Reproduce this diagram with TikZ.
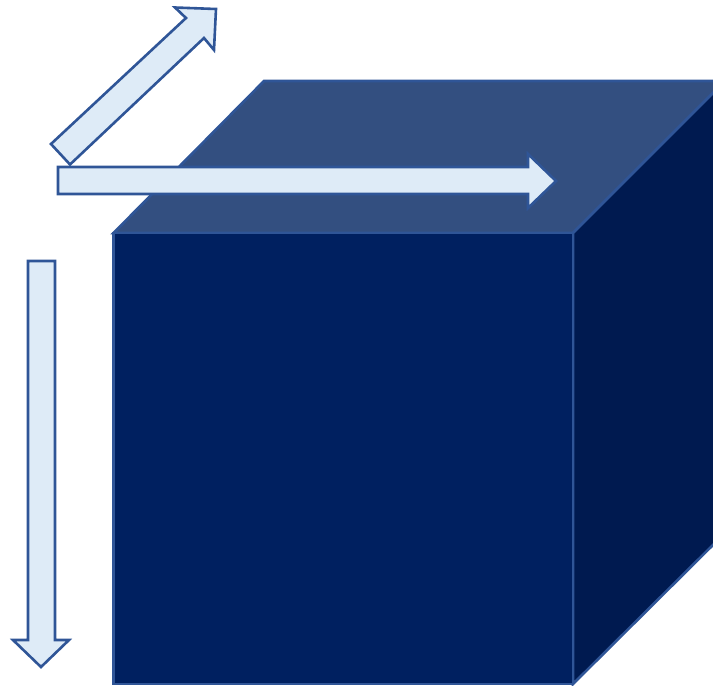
\documentclass[tikz,border=0pt]{standalone}
\definecolor{edgeblue}{HTML}{2F5597}
\definecolor{topface}{HTML}{334F80}
\definecolor{frontface}{HTML}{002060}
\definecolor{sideface}{HTML}{001A50}
\definecolor{arrowfill}{HTML}{DEEBF7}
\tikzset{
  face/.style={draw=edgeblue,line width=2.6pt,line join=miter},
  blockarrow/.style={draw=edgeblue,fill=arrowfill,line width=2.6pt,line join=miter}
}
\begin{document}
\begin{tikzpicture}[x=1pt,y=-1pt]
\useasboundingbox (0,0) rectangle (713,686);
\clip (0,0) rectangle (713,686);
\draw[face,fill=topface] (113.5,233) -- (264,81) -- (725,81) -- (573,233) -- cycle;
\draw[face,fill=sideface] (573,233) -- (725,81) -- (725,533) -- (573,684) -- cycle;
\draw[face,fill=frontface] (113.5,233) rectangle (573,684);
\draw[blockarrow] (51,144) -- (186,18) -- (175,7.5) -- (216,9) -- (214,50) -- (204,38) -- (70,164.5) -- cycle;
\draw[blockarrow] (58,167) -- (528,167) -- (528,154) -- (556,181) -- (528,208) -- (528,194) -- (58,194) -- cycle;
\draw[blockarrow] (28,261) -- (55,261) -- (55,640) -- (69,640) -- (41,667) -- (13,640) -- (28,640) -- cycle;
\end{tikzpicture}
\end{document}
